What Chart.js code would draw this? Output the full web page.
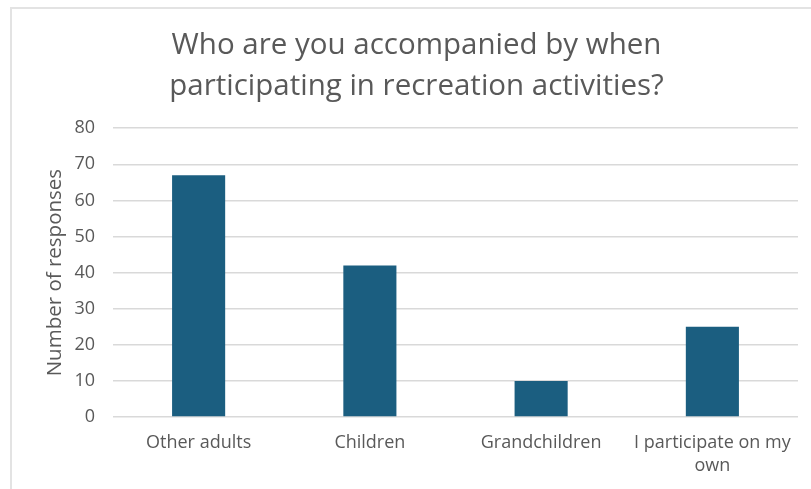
<!DOCTYPE html>
<html>
<head>
<meta charset="utf-8">
<script src="https://cdn.jsdelivr.net/npm/chart.js@4"></script>
<style>
  html, body { margin: 0; padding: 0; background: #fff; }
  #wrap { position: relative; width: 811px; height: 489px; }
  #frame {
    position: absolute; left: 10px; top: 7px; right: 0; bottom: 0;
    border-top: 2px solid #e3e3e3; border-left: 2px solid #e3e3e3;
    pointer-events: none;
  }
</style>
</head>
<body>
<div id="wrap">
  <canvas id="chart" width="811" height="489"></canvas>
  <div id="frame"></div>
</div>
<script>
// survey answers and response counts
const categories = ["Other adults", "Children", "Grandchildren", ["I participate on my", "own"]];
const responses = [67, 42, 10, 25];
const yTicks = { min: 0, max: 80, step: 10 };

const textColor = "#595959";
const fontFamily = "'Open Sans', 'Noto Sans', sans-serif";

new Chart(document.getElementById("chart"), {
  type: "bar",
  data: {
    labels: categories,
    datasets: [{
      label: "Number of responses",
      data: responses,
      backgroundColor: "#1b5e80",
      categoryPercentage: 1,
      barPercentage: 0.31
    }]
  },
  options: {
    responsive: false,
    animation: false,
    layout: { padding: { left: 35, right: 13, top: 0, bottom: 0 } },
    plugins: {
      legend: { display: false },
      tooltip: { enabled: false },
      title: {
        display: true,
        text: ["Who are you accompanied by when", "participating in recreation activities?"],
        color: textColor,
        font: { family: fontFamily, size: 29.5, weight: "normal", lineHeight: 1.36 },
        padding: { top: 26, bottom: 22 }
      }
    },
    scales: {
      x: {
        grid: { display: false, drawTicks: false },
        border: { display: false },
        ticks: {
          color: textColor,
          font: { family: fontFamily, size: 18, lineHeight: 1.25 },
          padding: 15,
          maxRotation: 0
        },
        afterFit: scale => { scale.height = 72; }
      },
      y: {
        min: yTicks.min,
        max: yTicks.max,
        ticks: {
          stepSize: yTicks.step,
          color: textColor,
          font: { family: fontFamily, size: 18 },
          padding: 18
        },
        grid: { color: "#d9d9d9", lineWidth: 1.5, drawTicks: false },
        border: { display: false },
        title: {
          display: true,
          text: "Number of responses",
          color: textColor,
          font: { family: fontFamily, size: 20.5 },
          padding: { top: 8, bottom: 0 }
        },
        afterFit: scale => { scale.width = 78; }
      }
    }
  }
});
</script>
</body>
</html>
